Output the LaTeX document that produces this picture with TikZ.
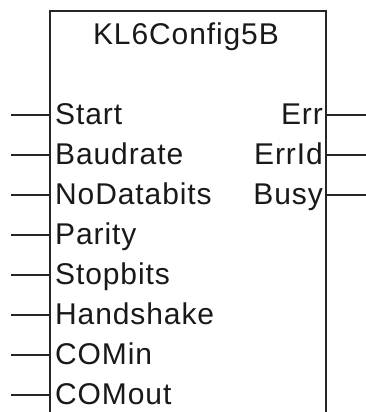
\documentclass[tikz,border=0pt]{standalone}
\usepackage{fontspec}
\setmainfont{Liberation Sans}[LetterSpace=3]
\begin{document}
\begin{tikzpicture}[x=1pt,y=-1pt,
  frame/.style={line width=1.6pt,draw=black!85},
  pin/.style={line width=1.6pt,draw=black!85},
  lbl/.style={inner sep=0pt,text=black!90,font=\fontsize{30}{35}\selectfont},
  inlbl/.style={lbl,anchor=base west},
  outlbl/.style={lbl,anchor=base east}]
  \useasboundingbox (0,0) rectangle (366,412);
  \fill[white] (0,0) rectangle (366,412);

  % function block outline, open at the bottom
  \coordinate (bl) at (50,412);
  \coordinate (tl) at (50,11);
  \coordinate (tr) at (326,11);
  \coordinate (br) at (326,412);
  \draw[frame] (bl) -- (tl) -- (tr) -- (br);

  % block name
  \node[lbl,anchor=base] (title) at (186,45) {KL6Config5B};

  % inputs
  \foreach \name/\txt [count=\i from 0] in
    {start/Start,baud/Baudrate,ndb/NoDatabits,par/Parity,stop/Stopbits,
     hs/Handshake,cin/COMin,cout/COMout}{
    \pgfmathsetmacro{\yy}{115+40*\i}
    \coordinate (\name-pin) at (11,\yy);
    \coordinate (\name-edge) at (50,\yy);
    \node[inlbl] (\name) at (55,\yy+9) {\txt};
    \draw[pin] (\name-pin) -- (\name-edge);
  }

  % outputs
  \foreach \name/\txt [count=\i from 0] in {err/Err,errid/ErrId,busy/Busy}{
    \pgfmathsetmacro{\yy}{115+40*\i}
    \coordinate (\name-pin) at (366,\yy);
    \coordinate (\name-edge) at (326,\yy);
    \node[outlbl] (\name) at (323,\yy+9) {\txt};
    \draw[pin] (\name-edge) -- (\name-pin);
  }
\end{tikzpicture}
\end{document}
